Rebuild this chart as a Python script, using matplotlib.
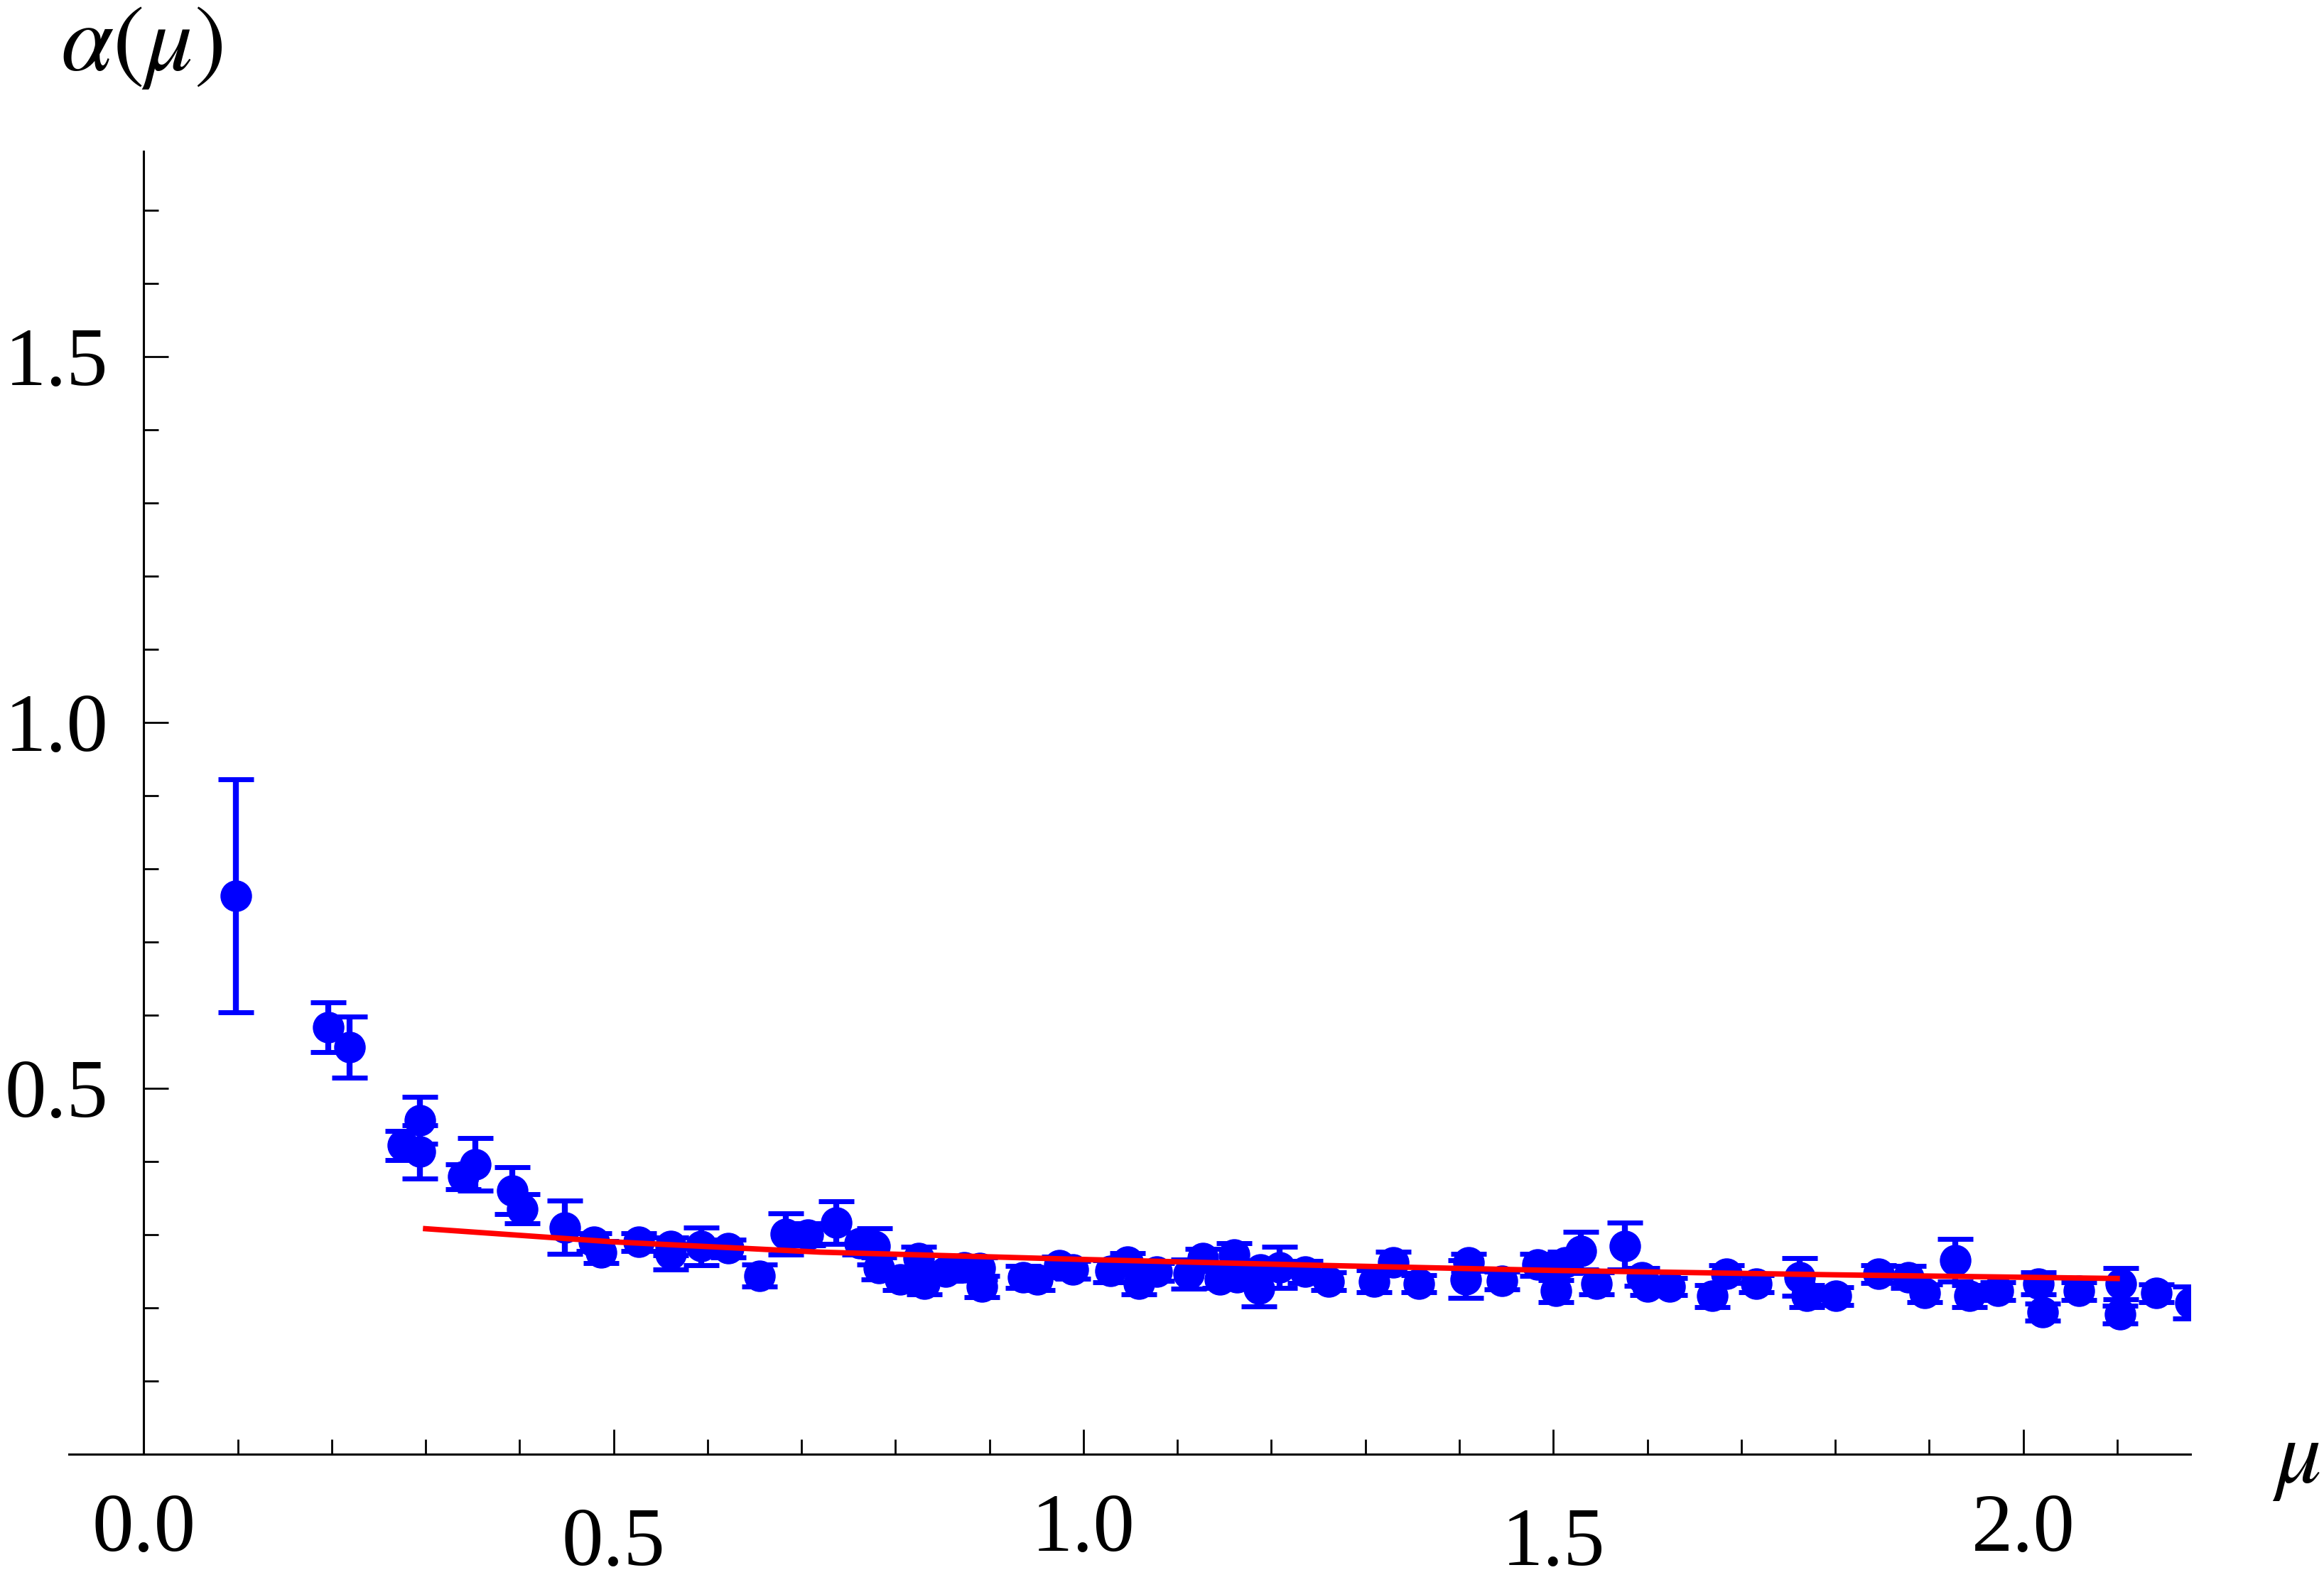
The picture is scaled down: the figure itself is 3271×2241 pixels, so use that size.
"""
alpha(mu) data points with error bars plus fitted curve.
"""

import matplotlib

matplotlib.use("Agg")
import matplotlib.pyplot as plt
from matplotlib.ticker import MultipleLocator, FixedLocator

# data points
MU = [
    0.098, 0.196, 0.219, 0.276, 0.294, 0.294, 0.340, 0.353, 0.392, 0.403,
    0.448, 0.479, 0.487, 0.527, 0.561, 0.561, 0.593, 0.622, 0.655, 0.683,
    0.707, 0.737, 0.762, 0.778, 0.782, 0.805, 0.825, 0.831, 0.853, 0.873,
    0.890, 0.892, 0.936, 0.951, 0.974, 0.989, 1.029, 1.047, 1.059, 1.078,
    1.112, 1.127, 1.145, 1.160, 1.163, 1.187, 1.188, 1.209, 1.236, 1.261,
    1.309, 1.330, 1.357, 1.407, 1.410, 1.445, 1.483, 1.503, 1.513, 1.529,
    1.546, 1.576, 1.594, 1.600, 1.624, 1.669, 1.684, 1.716, 1.762, 1.770,
    1.801, 1.846, 1.878, 1.895, 1.928, 1.943, 1.973, 2.016, 2.021, 2.059,
    2.104, 2.103, 2.142, 2.178,
]
ALPHA = [
    0.763, 0.583, 0.556, 0.422, 0.456, 0.413, 0.379, 0.396, 0.360, 0.335,
    0.310, 0.290, 0.276, 0.290, 0.284, 0.274, 0.284, 0.281, 0.244, 0.301,
    0.300, 0.316, 0.288, 0.284, 0.254, 0.239, 0.268, 0.233, 0.249, 0.255,
    0.254, 0.229, 0.242, 0.239, 0.258, 0.252, 0.250, 0.263, 0.233, 0.249,
    0.246, 0.268, 0.239, 0.273, 0.242, 0.226, 0.252, 0.255, 0.249, 0.236,
    0.236, 0.262, 0.233, 0.239, 0.262, 0.237, 0.259, 0.223, 0.262, 0.278,
    0.233, 0.284, 0.242, 0.229, 0.229, 0.216, 0.246, 0.233, 0.242, 0.216,
    0.216, 0.246, 0.242, 0.220, 0.265, 0.216, 0.223, 0.233, 0.194, 0.223,
    0.233, 0.191, 0.220, 0.207,
]
ALPHA_ERR = [
    0.159, 0.034, 0.042, 0.020, 0.032, 0.036, 0.017, 0.036, 0.032, 0.020,
    0.036, 0.012, 0.015, 0.012, 0.012, 0.022, 0.026, 0.012, 0.015, 0.028,
    0.015, 0.029, 0.015, 0.025, 0.015, 0.015, 0.015, 0.015, 0.012, 0.012,
    0.015, 0.015, 0.015, 0.015, 0.012, 0.012, 0.015, 0.012, 0.015, 0.012,
    0.020, 0.012, 0.012, 0.015, 0.012, 0.024, 0.012, 0.028, 0.015, 0.012,
    0.015, 0.015, 0.012, 0.026, 0.012, 0.012, 0.015, 0.015, 0.015, 0.026,
    0.015, 0.032, 0.012, 0.012, 0.012, 0.015, 0.012, 0.012, 0.026, 0.015,
    0.012, 0.012, 0.015, 0.012, 0.029, 0.015, 0.012, 0.015, 0.012, 0.012,
    0.021, 0.012, 0.012, 0.022,
]

# fitted curve
FIT_MU = [0.30, 0.50, 0.72, 1.00, 1.25, 1.50, 1.80, 2.10]
FIT_ALPHA = [0.308, 0.290, 0.276, 0.266, 0.258, 0.251, 0.245, 0.240]

X_TICKS = [0.0, 0.5, 1.0, 1.5, 2.0]
Y_TICKS = [0.5, 1.0, 1.5]

BLUE = "#0000ff"
RED = "#ff0000"


def main() -> int:
    plt.rcParams["mathtext.fontset"] = "stix"
    plt.rcParams["font.family"] = ["Liberation Serif", "DejaVu Serif"]

    fig = plt.figure(figsize=(32.71, 22.41), dpi=100)
    ax = fig.add_axes([0.02965, 0.0866, 0.9129, 0.8183])

    ax.errorbar(
        MU, ALPHA, yerr=ALPHA_ERR, fmt="o", color=BLUE, ecolor=BLUE,
        markersize=31, elinewidth=6, capsize=18, capthick=5, zorder=3,
    )
    ax.plot(FIT_MU, FIT_ALPHA, color=RED, linewidth=5.5, zorder=4)

    ax.set_xlim(-0.0796, 2.178)
    ax.set_ylim(0, 1.78)

    for side in ("top", "right"):
        ax.spines[side].set_visible(False)
    ax.spines["left"].set_position(("data", 0))
    ax.spines["bottom"].set_position(("data", 0))
    for side in ("left", "bottom"):
        ax.spines[side].set_linewidth(2.2)

    ax.xaxis.set_major_locator(FixedLocator(X_TICKS))
    ax.xaxis.set_minor_locator(MultipleLocator(0.1))
    ax.yaxis.set_major_locator(FixedLocator(Y_TICKS))
    ax.yaxis.set_minor_locator(MultipleLocator(0.1))
    ax.set_xticklabels([f"{v:.1f}" for v in X_TICKS])
    ax.set_yticklabels([f"{v:.1f}" for v in Y_TICKS])

    ax.tick_params(which="both", direction="in", width=2, labelsize=84)
    ax.tick_params(which="major", length=25)
    ax.tick_params(which="minor", length=15)
    ax.tick_params(axis="y", which="major", pad=36)

    # Mathematica staggers the x labels
    for i, tick in enumerate(ax.xaxis.get_major_ticks()):
        tick.set_pad(54 if i % 2 else 40)

    fig.text(0.061, 0.970, r"$\alpha(\mu)$", fontsize=96, ha="center", va="center")
    fig.text(0.988, 0.0687, r"$\mu$", fontsize=92, ha="center", va="baseline")

    fig.savefig("out.png", dpi=100)
    plt.close(fig)
    return 0


if __name__ == "__main__":
    raise SystemExit(main())
